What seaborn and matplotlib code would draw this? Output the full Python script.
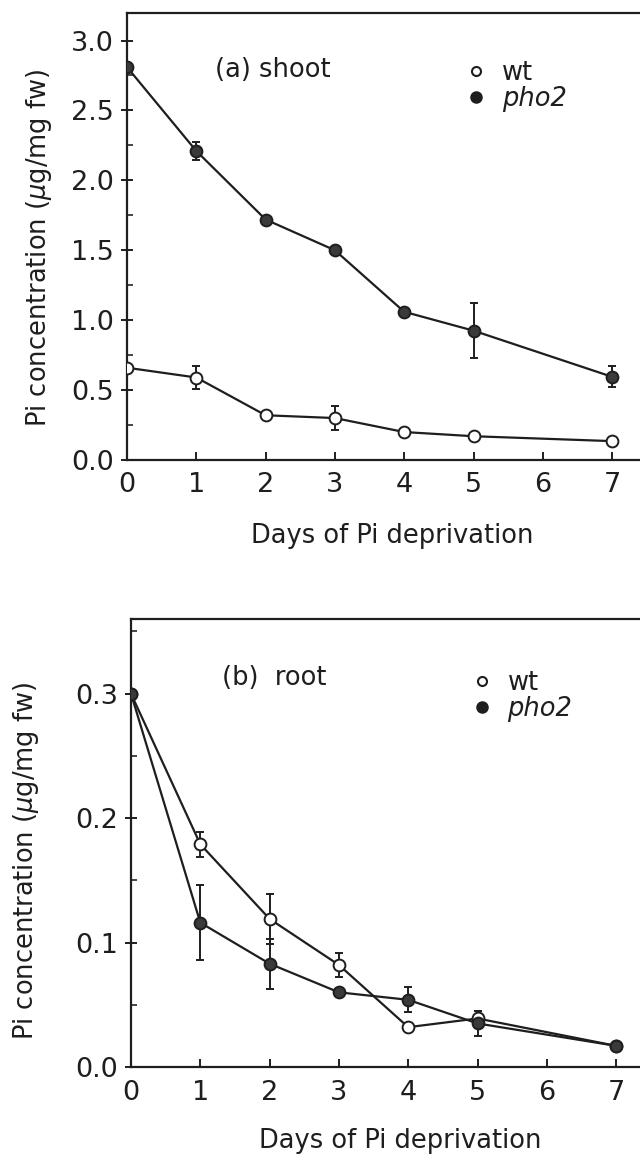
import numpy as np
import pandas as pd
import matplotlib
matplotlib.use("Agg")
import matplotlib.pyplot as plt
from matplotlib.lines import Line2D
from matplotlib.ticker import MultipleLocator
import seaborn as sns

# ---- data ----
days = [0, 1, 2, 3, 4, 5, 7]
shoot_wt = [0.66, 0.59, 0.32, 0.30, 0.20, 0.17, 0.135]
shoot_wt_err = [0, 0.08, 0, 0.085, 0, 0, 0]
shoot_pho2 = [2.81, 2.21, 1.72, 1.50, 1.06, 0.925, 0.595]
shoot_pho2_err = [0, 0.065, 0, 0, 0, 0.195, 0.076]
root_wt = [0.300, 0.179, 0.119, 0.082, 0.032, 0.039, 0.017]
root_wt_err = [0, 0.010, 0.020, 0.010, 0, 0.006, 0]
root_pho2 = [0.300, 0.116, 0.083, 0.060, 0.054, 0.035, 0.017]
root_pho2_err = [0, 0.030, 0.020, 0, 0.010, 0.010, 0]
genotypes = ["wt", "pho2"]
panel_titles = ["(a) shoot", "(b)  root"]
xlabel = "Days of Pi deprivation"
ylabel = "Pi concentration ($\\mu$g/mg fw)"

sns.set_style("ticks")
plt.rcParams["font.family"] = ["DejaVu Sans"]
plt.rcParams["mathtext.fontset"] = "dejavusans"

INK = "#1e1e1e"
FILL = "#3a3a3a"

fig = plt.figure(figsize=(6.4, 11.57), dpi=100)
W, H = 640.0, 1157.0
axw = 519.75 / W
ax1 = fig.add_axes([127 / W, (H - 460) / H, axw, 447 / H])
ax2 = fig.add_axes([131 / W, (H - 1067) / H, axw, 448 / H])


def make_df(wt, wt_err, ph, ph_err):
    return pd.DataFrame({
        "day": days * 2,
        "value": list(wt) + list(ph),
        "err": list(wt_err) + list(ph_err),
        "genotype": [genotypes[0]] * len(days) + [genotypes[1]] * len(days),
    })


def draw(ax, df, ylim, major, minor, title, title_xy, leg_xy, ylab_xy, xlab_xy):
    styles = {
        "wt": dict(markerfacecolor="white", markeredgecolor=INK),
        "pho2": dict(markerfacecolor=FILL, markeredgecolor=INK),
    }
    for g in genotypes[::-1] if False else genotypes:
        sub = df[df["genotype"] == g]
        ax.errorbar(sub["day"], sub["value"], yerr=sub["err"], fmt="none",
                    ecolor=INK, elinewidth=1.4, capsize=3.2, capthick=1.4, zorder=2)
    for g in genotypes:
        sub = df[df["genotype"] == g]
        sns.lineplot(data=sub, x="day", y="value", ax=ax, color=INK,
                     marker="o", markersize=8.5, markeredgewidth=1.4,
                     linewidth=1.6, legend=False, zorder=3, **styles[g])
    ax.set_xlim(0, 7.5)
    ax.set_ylim(*ylim)
    ax.xaxis.set_major_locator(MultipleLocator(1))
    ax.yaxis.set_major_locator(MultipleLocator(major))
    ax.yaxis.set_minor_locator(MultipleLocator(minor))
    ax.tick_params(axis="x", direction="in", length=6, width=1.4, pad=9,
                   labelsize=19.5, colors=INK, top=False)
    ax.tick_params(axis="y", which="major", direction="inout", length=9, width=1.4,
                   pad=5, labelsize=19.5, colors=INK, right=False)
    ax.tick_params(axis="y", which="minor", direction="in", length=4, width=1.2,
                   right=False)
    ax.set_xticks(days + [6])
    ax.set_xticks(range(0, 8))
    for s in ax.spines.values():
        s.set_linewidth(1.6)
        s.set_color(INK)
    ax.set_xlabel(xlabel, fontsize=18.5, color=INK)
    ax.set_ylabel(ylabel, fontsize=18.5, color=INK)
    ax.xaxis.set_label_coords(*xlab_xy)
    ax.yaxis.set_label_coords(*ylab_xy)
    ax.text(title_xy[0], title_xy[1], title, transform=ax.transAxes,
            fontsize=18.5, color=INK, ha="left", va="center")
    handles = [
        Line2D([], [], linestyle="none", marker="o", markersize=6.5,
               markerfacecolor="white", markeredgecolor=INK, markeredgewidth=1.5),
        Line2D([], [], linestyle="none", marker="o", markersize=8,
               markerfacecolor=INK, markeredgecolor=INK),
    ]
    leg = ax.legend(handles, genotypes, loc="upper left", bbox_to_anchor=leg_xy,
                    frameon=False, fontsize=18.5, handlelength=0.6,
                    handletextpad=0.7, labelspacing=0.0, borderpad=0,
                    borderaxespad=0)
    leg.get_texts()[1].set_style("italic")
    for t in leg.get_texts():
        t.set_color(INK)
    ax.grid(False)


df_shoot = make_df(shoot_wt, shoot_wt_err, shoot_pho2, shoot_pho2_err)
df_root = make_df(root_wt, root_wt_err, root_pho2, root_pho2_err)

draw(ax1, df_shoot, (0, 3.197), 0.5, 0.25, panel_titles[0],
     (0.169, 0.872), (0.657, 0.895), (-0.14, 0.475), (0.51, -0.141))
ax1.yaxis.set_major_formatter(matplotlib.ticker.FormatStrFormatter("%.1f"))
draw(ax2, df_root, (0, 0.36), 0.1, 0.05, panel_titles[1],
     (0.175, 0.868), (0.66, 0.886), (-0.173, 0.46), (0.518, -0.136))
ax2.yaxis.set_major_formatter(matplotlib.ticker.FormatStrFormatter("%.1f"))

fig.savefig("out.png", dpi=100)
